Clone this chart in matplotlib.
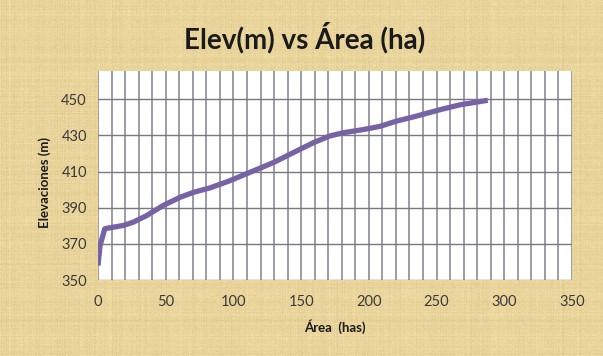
import numpy as np
import matplotlib.pyplot as plt

# area (ha) vs elevation (m)
area = [0, 1.5, 5, 18.7, 26, 36, 48, 60.6, 70.4, 82.7, 97.5, 114.7, 129.5, 144.2,
        159, 171, 181, 196, 208, 220.6, 235, 252.6, 267.4, 279.7, 287.8]
elev = [358, 369, 378.4, 380.2, 382, 385.7, 391.2, 395.8, 398.5, 401, 405, 410.4,
        415, 420.5, 426, 429.7, 431.5, 433.3, 435, 438, 440.7, 444.3, 447, 448.5, 449.5]

xticks = [0, 50, 100, 150, 200, 250, 300, 350]
yticks = [350, 370, 390, 410, 430, 450]

plt.rcParams['font.family'] = ['Lato', 'DejaVu Sans']

fig = plt.figure(figsize=(6.03, 3.56), dpi=100)

# parchment-like backdrop
h, w = 356, 603
rng = np.random.default_rng(3)
base = np.array([233, 212, 156]) / 255.0
streak_v = rng.normal(0, 1, (1, w)).repeat(h, axis=0)
streak_h = rng.normal(0, 1, (h, 1)).repeat(w, axis=1)
speck = rng.normal(0, 1, (h, w))
tex = 0.008 * streak_v + 0.008 * streak_h + 0.012 * speck
bg = np.clip(base[None, None, :] + tex[..., None], 0, 1)
fig.figimage(bg, xo=0, yo=0, zorder=-10)

ax = fig.add_axes([98 / 603, 1 - 280 / 356, 474 / 603, 209 / 356])
ax.set_zorder(1)
ax.set_facecolor('white')

ax.plot(area, elev, color='#7862A6', linewidth=3.8, solid_capstyle='butt',
        solid_joinstyle='round', zorder=3)

ax.set_xlim(0, 350)
ax.set_ylim(350, 465.7)
ax.set_xticks(xticks)
ax.set_yticks(yticks)
ax.set_xticks(np.arange(0, 351, 10), minor=True)

ax.grid(which='minor', axis='x', color='#9494a2', linewidth=1.3)
ax.grid(which='major', axis='x', color='#9494a2', linewidth=1.3)
ax.grid(which='major', axis='y', color='#7a7a7a', linewidth=1.0)
ax.set_axisbelow(True)

for s in ax.spines.values():
    s.set_visible(False)
ax.tick_params(which='both', length=0)
ax.tick_params(axis='x', pad=11, labelsize=10.5, labelcolor='#3a3a3a')
ax.tick_params(axis='y', pad=8, labelsize=10.5, labelcolor='#3a3a3a')

ax.set_xlabel('Área  (has)', fontsize=9.5, fontweight='bold', color='#1a1a1a', labelpad=7)
fig.text(45 / 603, 1 - 183 / 356, 'Elevaciones (m)', rotation=90, fontsize=9.5,
         fontweight='bold', color='#1a1a1a', ha='center', va='center', zorder=2)

fig.text(0.505, 1 - 38 / 356, 'Elev(m) vs Área (ha)', fontsize=20, fontweight='bold',
         color='#1a1a1a', ha='center', va='center', zorder=2)

fig.savefig('out.png', dpi=100)
